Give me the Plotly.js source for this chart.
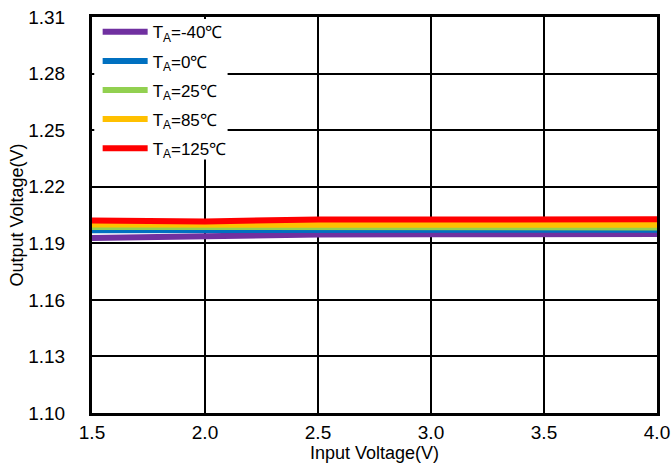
<!DOCTYPE html>
<html><head><meta charset="utf-8">
<script src="https://cdn.plot.ly/plotly-3.0.1.min.js"></script>
<style>body{margin:0;background:#fff}#c{width:672px;height:472px}</style>
</head><body><div id="c"></div>
<script>
const inputVoltage = [1.5, 2.0, 2.5, 3.0, 3.5, 4.0];
const vM40 = [1.1928, 1.1941, 1.1947, 1.1948, 1.1949, 1.1949];
const v0 = [1.1969, 1.1970, 1.1972, 1.1972, 1.1972, 1.1972];
const v25 = [1.1987, 1.1985, 1.1984, 1.1984, 1.1984, 1.1984];
const v85 = [1.1999, 1.1997, 1.1998, 1.1998, 1.1998, 1.1998];
const v125 = [1.2021, 1.2016, 1.2026, 1.2027, 1.2027, 1.2027];
const names = ['T<sub>A</sub>=-40℃','T<sub>A</sub>=0℃','T<sub>A</sub>=25℃','T<sub>A</sub>=85℃','T<sub>A</sub>=125℃'];
const colors = ['#7030a0','#0070c0','#92d050','#ffc000','#ff0000'];
const series = [vM40, v0, v25, v85, v125];
const xTicks = [1.5, 2.0, 2.5, 3.0, 3.5, 4.0];
const yTicks = [1.10, 1.13, 1.16, 1.19, 1.22, 1.25, 1.28, 1.31];

const traces = series.map((s,i)=>({x:inputVoltage,y:s,type:'scatter',mode:'lines',name:names[i],
  legendgroup:'g'+i,line:{color:colors[i],width:6}}));

const layout = {
  width:672,height:472,
  margin:{l:92,r:15,t:17,b:59},
  paper_bgcolor:'#fff',plot_bgcolor:'#fff',
  font:{family:'Liberation Sans, Arial, sans-serif',color:'#000'},
  showlegend:true,
  legend:{x:0.01,y:1.007,xanchor:'left',yanchor:'top',bgcolor:'rgba(0,0,0,0)',borderwidth:0,
    font:{size:17,color:'#000'},tracegroupgap:4,itemwidth:45},
  shapes:[{type:'rect',xref:'paper',yref:'paper',x0:0.004,x1:0.24,y0:0.64,y1:0.995,
    layer:'above',fillcolor:'#fff',line:{width:0}}],
  xaxis:{range:[1.5,4.0],tickvals:xTicks,ticktext:xTicks.map(v=>v.toFixed(1)),
    showgrid:true,gridcolor:'#000',gridwidth:2,zeroline:false,
    showline:true,linecolor:'#000',linewidth:3,mirror:true,ticks:'',
    tickfont:{size:19},ticklabelstandoff:0,
    title:{text:'Input Voltage(V)',font:{size:18},standoff:0}},
  yaxis:{range:[1.10,1.31],tickvals:yTicks,ticktext:yTicks.map(v=>v.toFixed(2)),
    showgrid:true,gridcolor:'#000',gridwidth:2,zeroline:false,
    showline:true,linecolor:'#000',linewidth:3,mirror:true,ticks:'',
    tickfont:{size:19},ticklabelstandoff:20,
    title:{text:'Output Voltage(V)',font:{size:18},standoff:0}}
};
Plotly.newPlot('c',traces,layout,{displayModeBar:false,staticPlot:true});
</script></body></html>
